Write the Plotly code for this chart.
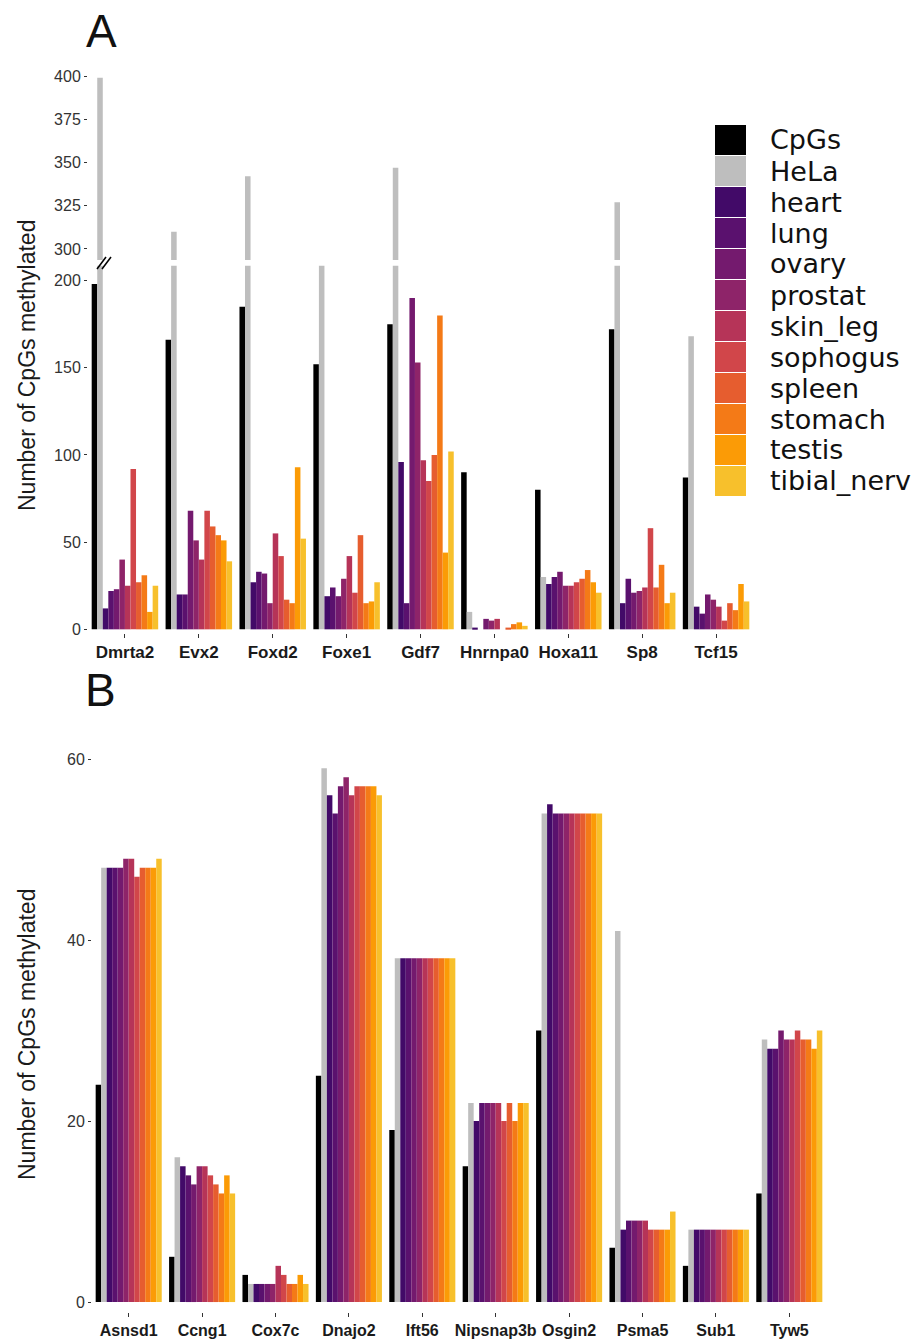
import plotly.graph_objects as go

W, H = 923, 1341

# ---------------- data: panel A ----------------
genes_a = ["Dmrta2", "Evx2", "Foxd2", "Foxe1", "Gdf7", "Hnrnpa0", "Hoxa11", "Sp8", "Tcf15"]
cpgs_a = [198, 166, 185, 152, 175, 90, 80, 172, 87]
hela_a = [399, 310, 342, 210, 347, 10, 30, 327, 168]
heart_a = [12, 20, 27, 19, 96, 1, 26, 15, 13]
lung_a = [22, 20, 33, 24, 15, 0, 30, 29, 9]
ovary_a = [23, 68, 32, 19, 190, 6, 33, 21, 20]
prostat_a = [40, 51, 15, 29, 153, 5, 25, 22, 17]
skin_leg_a = [25, 40, 55, 42, 97, 6, 25, 24, 13]
sophogus_a = [92, 68, 42, 21, 85, 0, 27, 58, 5]
spleen_a = [27, 59, 17, 54, 100, 1, 29, 24, 15]
stomach_a = [31, 54, 15, 15, 180, 3, 34, 37, 11]
testis_a = [10, 51, 93, 16, 44, 4, 27, 15, 26]
tibial_nerv_a = [25, 39, 52, 27, 102, 2, 21, 21, 16]

# ---------------- data: panel B ----------------
genes_b = ["Asnsd1", "Ccng1", "Cox7c", "Dnajo2", "Ift56", "Nipsnap3b", "Osgin2", "Psma5", "Sub1", "Tyw5"]
cpgs_b = [24, 5, 3, 25, 19, 15, 30, 6, 4, 12]
hela_b = [48, 16, 2, 59, 38, 22, 54, 41, 8, 29]
heart_b = [48, 15, 2, 56, 38, 20, 55, 8, 8, 28]
lung_b = [48, 14, 2, 54, 38, 22, 54, 9, 8, 28]
ovary_b = [48, 13, 2, 57, 38, 22, 54, 9, 8, 30]
prostat_b = [49, 15, 2, 58, 38, 22, 54, 9, 8, 29]
skin_leg_b = [49, 15, 4, 56, 38, 22, 54, 9, 8, 29]
sophogus_b = [47, 14, 3, 57, 38, 20, 54, 8, 8, 30]
spleen_b = [48, 13, 2, 57, 38, 22, 54, 8, 8, 29]
stomach_b = [48, 12, 2, 57, 38, 20, 54, 8, 8, 29]
testis_b = [48, 14, 3, 57, 38, 22, 54, 8, 8, 28]
tibial_nerv_b = [49, 12, 2, 56, 38, 22, 54, 10, 8, 30]

series_names = ["CpGs", "HeLa", "heart", "lung", "ovary", "prostat", "skin_leg",
                "sophogus", "spleen", "stomach", "testis", "tibial_nerv"]
series_colors = ["#000000", "#bebebe", "#420a68", "#5a116e", "#741a6e", "#8e2469",
                 "#b63458", "#d1464a", "#e65d2f", "#f47a17", "#fb9b06", "#f7c02c"]

values_a = [cpgs_a, hela_a, heart_a, lung_a, ovary_a, prostat_a, skin_leg_a,
            sophogus_a, spleen_a, stomach_a, testis_a, tibial_nerv_a]
values_b = [cpgs_b, hela_b, heart_b, lung_b, ovary_b, prostat_b, skin_leg_b,
            sophogus_b, spleen_b, stomach_b, testis_b, tibial_nerv_b]


def px(x):
    return x / W


def py(y):
    return 1 - y / H


fig = go.Figure()

# Panel A: same data drawn on the lower (0-208) and upper (294-404) segments of the broken axis
for name, color, vals in zip(series_names, series_colors, values_a):
    for yax in ("y", "y2"):
        fig.add_trace(go.Bar(x=genes_a, y=vals, name=name, legendgroup=name,
                             marker=dict(color=color, line=dict(width=0)),
                             xaxis="x", yaxis=yax, showlegend=False))

# Panel B
for name, color, vals in zip(series_names, series_colors, values_b):
    fig.add_trace(go.Bar(x=genes_b, y=vals, name=name, legendgroup=name,
                         marker=dict(color=color, line=dict(width=0)),
                         xaxis="x2", yaxis="y3", showlegend=False))

tick_font = dict(family="Liberation Sans, Arial, sans-serif", size=16, color="#333333")


def xtick_font(size):
    return dict(family="Liberation Sans, Arial, sans-serif", size=size, color="#1a1a1a", weight="bold")


common_y = dict(showgrid=False, zeroline=False, showline=False, ticks="outside",
                ticklen=3, tickwidth=1, tickcolor="#333333", tickfont=tick_font,
                automargin=False)
common_x = dict(type="category", showgrid=False, zeroline=False, showline=False,
                ticks="outside", ticklen=4, tickwidth=1, tickcolor="#333333",
                tickangle=0, automargin=False)

fig.update_layout(
    width=W, height=H, autosize=False,
    margin=dict(l=0, r=0, t=0, b=0),
    paper_bgcolor="white", plot_bgcolor="white",
    barmode="group", bargap=0.1, bargroupgap=0,
    showlegend=False,
    xaxis=dict(domain=[px(88), px(753)], anchor="y", categoryorder="array",
               categoryarray=genes_a, tickfont=xtick_font(17), **common_x),
    yaxis=dict(domain=[py(633), py(265.7)], range=[-2.1, 208.5], anchor="x",
               tickvals=[0, 50, 100, 150, 200], **common_y),
    yaxis2=dict(domain=[py(260), py(70)], range=[293.6, 403.5], anchor="x",
                tickvals=[300, 325, 350, 375, 400], **common_y),
    xaxis2=dict(domain=[px(92), px(826)], anchor="y3", categoryorder="array",
                categoryarray=genes_b, tickfont=xtick_font(16), **common_x),
    yaxis3=dict(domain=[py(1312), py(741)], range=[-1.1, 62], anchor="x2",
                tickvals=[0, 20, 40, 60], **common_y),
)

title_font = dict(family="Liberation Sans, Arial, sans-serif", size=23, color="#1a1a1a")
annotations = [
    dict(text="A", x=px(101), y=py(31), xref="paper", yref="paper", showarrow=False,
         xanchor="center", yanchor="middle",
         font=dict(family="Liberation Sans, Arial, sans-serif", size=46, color="#111111")),
    dict(text="B", x=px(100), y=py(690), xref="paper", yref="paper", showarrow=False,
         xanchor="center", yanchor="middle",
         font=dict(family="Liberation Sans, Arial, sans-serif", size=46, color="#111111")),
    dict(text="Number of CpGs methylated", x=px(27), y=py(366), xref="paper", yref="paper",
         showarrow=False, textangle=-90, xanchor="center", yanchor="middle", font=title_font),
    dict(text="Number of CpGs methylated", x=px(27), y=py(1035), xref="paper", yref="paper",
         showarrow=False, textangle=-90, xanchor="center", yanchor="middle", font=title_font),
]

shapes = []
# legend (large swatches like the reference)
leg_top, leg_step, leg_h = 125, 31, 30
for i, (name, color) in enumerate(zip(series_names, series_colors)):
    top = leg_top + i * leg_step
    shapes.append(dict(type="rect", xref="paper", yref="paper",
                       x0=px(715), x1=px(746), y0=py(top + leg_h), y1=py(top),
                       fillcolor=color, line=dict(width=0)))
    annotations.append(dict(text=name, x=px(768), y=py(top + leg_h / 2), xref="paper", yref="paper",
                            showarrow=False, xanchor="left", yanchor="middle",
                            font=dict(family="DejaVu Sans, sans-serif", size=27, color="#111111")))

# axis-break marks
for dx in (0, 5):
    shapes.append(dict(type="line", xref="paper", yref="paper",
                       x0=px(97 + dx), y0=py(269), x1=px(106 + dx), y1=py(257),
                       line=dict(color="black", width=1.5)))

fig.update_layout(annotations=annotations, shapes=shapes)

fig.write_html("out.html",
               config={"displayModeBar": False},
               post_script="document.body.style.margin='0';document.body.style.padding='0';")
